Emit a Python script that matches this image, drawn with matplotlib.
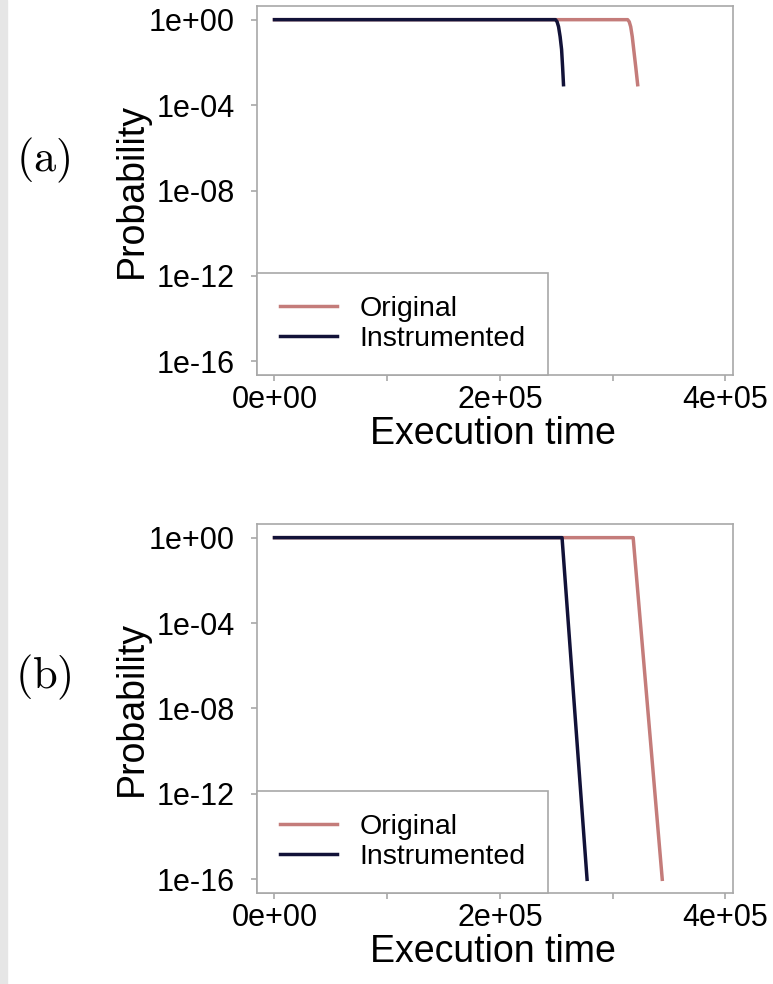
import matplotlib.pyplot as plt
from matplotlib.patches import Rectangle

plt.rcParams['font.family'] = ['Liberation Sans', 'DejaVu Sans']
plt.rcParams['mathtext.fontset'] = 'cm'

# valeurs
# (a)
t_orig_a = [0, 313300, 314700, 316000, 317400, 318700, 320500, 322200]
p_orig_a = [1, 1, 0.8, 0.47, 0.16, 0.04, 0.006, 9e-4]
t_inst_a = [0, 249300, 250700, 252000, 253400, 254700, 255600, 256400]
p_inst_a = [1, 1, 0.8, 0.47, 0.16, 0.04, 0.006, 9e-4]
# (b)
t_orig_b = [0, 318200, 344000]
p_orig_b = [1, 1, 1e-16]
t_inst_b = [0, 255100, 277300]
p_inst_b = [1, 1, 1e-16]

yticks = [1e0, 1e-4, 1e-8, 1e-12, 1e-16]
ytick_labels = ['1e+00', '1e-04', '1e-08', '1e-12', '1e-16']
xticks = [0, 1e5, 2e5, 3e5, 4e5]
xtick_labels = ['0e+00', '', '2e+05', '', '4e+05']

col_orig = '#c47c7a'
col_inst = '#121238'
gris = '#a8a8a8'

fig = plt.figure(figsize=(7.73, 9.84), dpi=100)
fig.patches.append(Rectangle((0, 0), 7 / 773, 1, transform=fig.transFigure,
                             color='#e6e6e6', zorder=0))

panneaux = [
    ('a', 0.6189, t_orig_a, p_orig_a, t_inst_a, p_inst_a, 160),
    ('b', 0.0925, t_orig_b, p_orig_b, t_inst_b, p_inst_b, 677),
]

for lettre, bas, to, po, ti, pi, ylet in panneaux:
    ax = fig.add_axes([0.3325, bas, 0.6158, 0.375])
    ax.plot(to, po, color=col_orig, lw=2.5, label='Original')
    ax.plot(ti, pi, color=col_inst, lw=2.5, label='Instrumented')
    ax.set_yscale('log')
    ax.set_ylim(10 ** -16.64, 10 ** 0.64)
    ax.set_xlim(-15500, 406800)
    ax.minorticks_off()
    ax.set_yticks(yticks, ytick_labels)
    ax.set_xticks(xticks, xtick_labels)
    ax.tick_params(axis='both', colors=gris, labelcolor='black', labelsize=22,
                   length=4, width=1.2)
    ax.tick_params(axis='y', pad=12)
    ax.tick_params(axis='x', pad=3)
    for s in ax.spines.values():
        s.set_color(gris)
        s.set_linewidth(1.2)
    ax.set_xlabel('Execution time', fontsize=27)
    ax.set_ylabel('Probability', fontsize=27)
    ax.xaxis.set_label_coords(0.495, -0.112)
    ax.yaxis.set_label_coords(-0.225, 0.5)
    leg = ax.legend(loc='lower left', fontsize=20.5, borderaxespad=0,
                    borderpad=0.8, handlelength=2.0, handletextpad=0.8,
                    labelspacing=0.15, fancybox=False, framealpha=1)
    leg.get_frame().set_edgecolor(gris)
    leg.get_frame().set_linewidth(1.2)
    fig.text(43 / 773, 1 - ylet / 984, r'$\mathrm{(%s)}$' % lettre,
             fontsize=32, ha='center', va='center')

fig.savefig('out.png', dpi=100)
